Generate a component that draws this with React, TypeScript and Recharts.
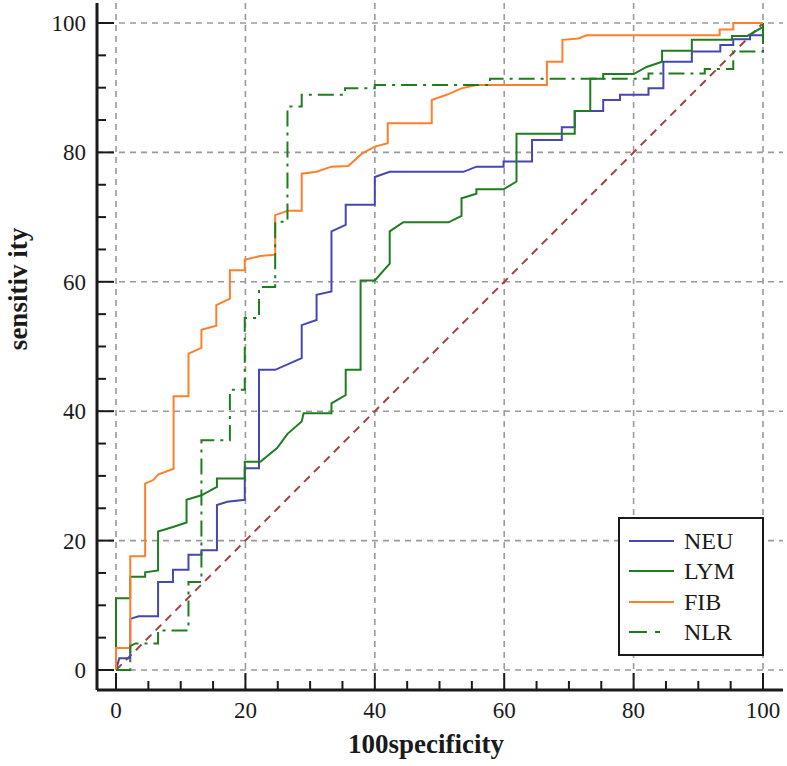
import React from 'react';
import { LineChart, Line, XAxis, YAxis, CartesianGrid, Label } from 'recharts';

// ROC curves, [100-specificity, sensitivity] vertices
const neuPoints = [
  [0, 0], [0.5, 1.8], [2.2, 1.8], [2.2, 7.9], [3.5, 8.3], [6.5, 8.3], [6.5, 13.6], [8.8, 13.6],
  [8.8, 15.5], [11.2, 15.5], [11.2, 17.8], [13.2, 17.8], [13.2, 18.5], [15.6, 18.5], [15.6, 25.5],
  [17.2, 26], [19.9, 26.3], [19.9, 31.2], [22.1, 31.2], [22.1, 46.4], [24.6, 46.4], [28.7, 48.2],
  [28.7, 53.3], [31, 54.1], [31, 58], [33.3, 58.5], [33.3, 67.8], [35.5, 68.8], [35.5, 71.9],
  [40, 71.9], [40, 76.2], [42.3, 77], [53.7, 77], [55.7, 77.8], [59.9, 77.8], [59.9, 78.6],
  [64.3, 78.6], [64.3, 81.9], [68.9, 81.9], [68.9, 83.9], [70.9, 83.9], [70.9, 86.4], [75.3, 86.4],
  [75.3, 88.1], [77.9, 88.1], [77.9, 88.9], [82.3, 88.9], [82.3, 89.9], [84.6, 89.9], [84.6, 94],
  [89, 94], [89, 95.6], [93.4, 95.6], [93.4, 96.6], [95.4, 96.6], [95.4, 97.5], [98, 97.5],
  [98, 98.1], [100, 98.1], [100, 100],
];

const lymPoints = [
  [0, 0], [0, 11.1], [2.2, 11.1], [2.2, 14.4], [4.5, 14.4], [4.5, 15.1], [6.5, 15.4], [6.5, 21.4],
  [8.8, 22.1], [10.9, 22.8], [10.9, 26.3], [13.2, 27], [15.6, 28.3], [15.6, 29.6], [19.9, 29.6],
  [19.9, 32.2], [22.3, 32.2], [24.9, 34.3], [26.5, 36.5], [28.7, 38.4], [29, 39.7], [33.3, 39.7],
  [33.3, 41.2], [35.5, 42.5], [35.5, 46.4], [37.8, 46.4], [37.8, 60.2], [40, 60.2], [42.3, 62.8],
  [42.3, 67.8], [44.4, 69.2], [51.4, 69.2], [53.4, 70.2], [53.4, 72.9], [55.7, 73.6], [55.7, 74.3],
  [59.9, 74.3], [61.9, 75.5], [61.9, 82.9], [70.9, 82.9], [70.9, 86.4], [73.3, 86.4], [73.3, 91.4],
  [75.3, 91.4], [75.3, 92.1], [80, 92.1], [82, 93.2], [84.4, 94], [84.4, 95.7], [89, 95.7],
  [89, 97.4], [95.2, 97.4], [95.2, 98], [97.6, 98], [100, 99.4], [100, 100],
];

const fibPoints = [
  [0, 0], [0, 3.4], [2.2, 3.4], [2.2, 17.6], [4.5, 17.6], [4.5, 28.8], [5.8, 29.4], [6.5, 30.2],
  [8.9, 31.1], [8.9, 42.3], [11.2, 42.3], [11.2, 48.9], [13.2, 49.8], [13.2, 52.6], [15.5, 53.2],
  [15.5, 56.4], [17.6, 57.4], [17.6, 61.8], [19.9, 61.8], [19.9, 63.4], [22.3, 64], [24.6, 64.2],
  [24.6, 70.3], [26.6, 71], [28.7, 71], [28.7, 76.7], [31, 77], [33.3, 77.8], [35.9, 77.9],
  [38, 79.8], [40, 80.9], [42, 81.4], [42, 84.5], [48.8, 84.5], [48.8, 88.1], [51.1, 88.9],
  [53.4, 89.9], [55.7, 90.4], [66.6, 90.4], [66.6, 94], [69, 94], [69, 97.4], [71.5, 97.6],
  [72.7, 98.1], [93.3, 98.1], [93.3, 99], [95.4, 99], [95.4, 100], [100, 100],
];

const nlrPoints = [
  [0, 0], [2.2, 0], [2.2, 3.7], [3, 4.1], [6.5, 4.1], [6.5, 6.1], [11.2, 6.1], [11.2, 13.6],
  [13.2, 13.6], [13.2, 35.5], [17.6, 35.5], [17.6, 43.3], [19.9, 43.3], [19.9, 54.4], [22.1, 54.4],
  [22.1, 59.2], [24.6, 59.2], [24.6, 69.3], [26.5, 69.3], [26.5, 87.1], [28.7, 87.1], [28.7, 88.9],
  [35.4, 88.9], [35.4, 89.9], [40, 89.9], [40, 90.4], [57.8, 90.4], [57.8, 91.4], [82.3, 91.4],
  [82.3, 92.2], [91, 92.2], [91, 92.9], [95.4, 92.9], [95.4, 95.6], [100, 95.6], [100, 100],
];

const refPoints = [[0, 0], [100, 100]];

const seriesNames = ['NEU', 'LYM', 'FIB', 'NLR'];
const axisTicks = [0, 5, 10, 15, 20, 25, 30, 35, 40, 45, 50, 55, 60, 65, 70, 75, 80, 85, 90, 95, 100];
const gridValues = [0, 20, 40, 60, 80, 100];

const SERIF = '"Liberation Serif", "Times New Roman", serif';
const INK = '#1a1a1a';

const series = [
  { name: seriesNames[0], points: neuPoints, color: '#4646b4', dash: undefined },
  { name: seriesNames[1], points: lymPoints, color: '#1e7d1e', dash: undefined },
  { name: seriesNames[2], points: fibPoints, color: '#ff7f2a', dash: undefined },
  { name: seriesNames[3], points: nlrPoints, color: '#1e7d1e', dash: '16 6 3 6' },
];

const toRows = (pts: number[][]) => pts.map(([x, y]) => ({ x, y }));

function XTick({ x, y, payload }: any) {
  const major = payload.value % 20 === 0;
  return (
    <g>
      <line x1={x} x2={x} y1={y} y2={y - (major ? 17 : 9)} stroke={INK} strokeWidth={2} />
      {major && (
        <text x={x} y={y + 28} textAnchor="middle" fontFamily={SERIF} fontSize={23} fill={INK}>
          {payload.value}
        </text>
      )}
    </g>
  );
}

function YTick({ x, y, payload }: any) {
  const major = payload.value % 20 === 0;
  return (
    <g>
      <line x1={x} x2={x + (major ? 17 : 9)} y1={y} y2={y} stroke={INK} strokeWidth={2} />
      {major && (
        <text x={x - 11} y={y} dy="0.35em" textAnchor="end" fontFamily={SERIF} fontSize={23} fill={INK}>
          {payload.value}
        </text>
      )}
    </g>
  );
}

function ChartLegend() {
  return (
    <div
      style={{
        position: 'absolute', left: 618, top: 517, width: 146, height: 139, boxSizing: 'border-box',
        border: `2px solid ${INK}`, background: '#fff', paddingTop: 7, paddingLeft: 9,
      }}
    >
      {series.map(s => (
        <div key={s.name} style={{ display: 'flex', alignItems: 'center', height: 30.3 }}>
          <svg width={45} height={6} style={{ marginRight: 10 }}>
            <line x1={0} x2={45} y1={3} y2={3} stroke={s.color} strokeWidth={2} strokeDasharray={s.dash ? '18 8 5 20' : undefined} />
          </svg>
          <span style={{ fontFamily: SERIF, fontSize: 24, color: INK, lineHeight: 1 }}>{s.name}</span>
        </div>
      ))}
    </div>
  );
}

export default function App() {
  return (
    <div style={{ position: 'absolute', left: 0, top: 0, width: 787, height: 766, background: '#fff' }}>
      <LineChart width={787} height={766} margin={{ top: 3, right: 4, bottom: 0, left: 0 }}>
        <CartesianGrid
          stroke="#9a9a9a"
          strokeDasharray="6 5"
          strokeWidth={1.6}
          horizontalValues={gridValues}
          verticalValues={gridValues}
        />
        <XAxis
          type="number"
          dataKey="x"
          domain={[-2.94, 103.09]}
          allowDataOverflow
          ticks={axisTicks}
          interval={0}
          tickSize={0}
          tickMargin={0}
          tickLine={false}
          tick={<XTick />}
          axisLine={{ stroke: INK, strokeWidth: 3 }}
          height={76}
        >
          <Label
            content={() => (
              <text x={426} y={753} textAnchor="middle" fontFamily={SERIF} fontSize={27} fontWeight="bold" fill={INK}>
                100specificity
              </text>
            )}
          />
        </XAxis>
        <YAxis
          type="number"
          domain={[-3.09, 103.09]}
          allowDataOverflow
          ticks={axisTicks}
          interval={0}
          tickSize={0}
          tickMargin={0}
          tickLine={false}
          tick={<YTick />}
          axisLine={{ stroke: INK, strokeWidth: 3 }}
          width={97}
        >
          <Label
            content={() => (
              <text
                x={18}
                y={289}
                transform="rotate(-90 18 289)"
                textAnchor="middle"
                dy="0.35em"
                fontFamily={SERIF}
                fontSize={27}
                fontWeight="bold"
                fill={INK}
              >
                sensitiv ity
              </text>
            )}
          />
        </YAxis>
        <Line
          data={toRows(refPoints)}
          dataKey="y"
          type="linear"
          stroke="#a3423f"
          strokeWidth={2}
          strokeDasharray="8 6"
          dot={false}
          legendType="none"
          isAnimationActive={false}
        />
        {series.map(s => (
          <Line
            key={s.name}
            name={s.name}
            data={toRows(s.points)}
            dataKey="y"
            type="linear"
            stroke={s.color}
            strokeWidth={2}
            strokeDasharray={s.dash}
            dot={false}
            isAnimationActive={false}
          />
        ))}
      </LineChart>
      <ChartLegend />
    </div>
  );
}
